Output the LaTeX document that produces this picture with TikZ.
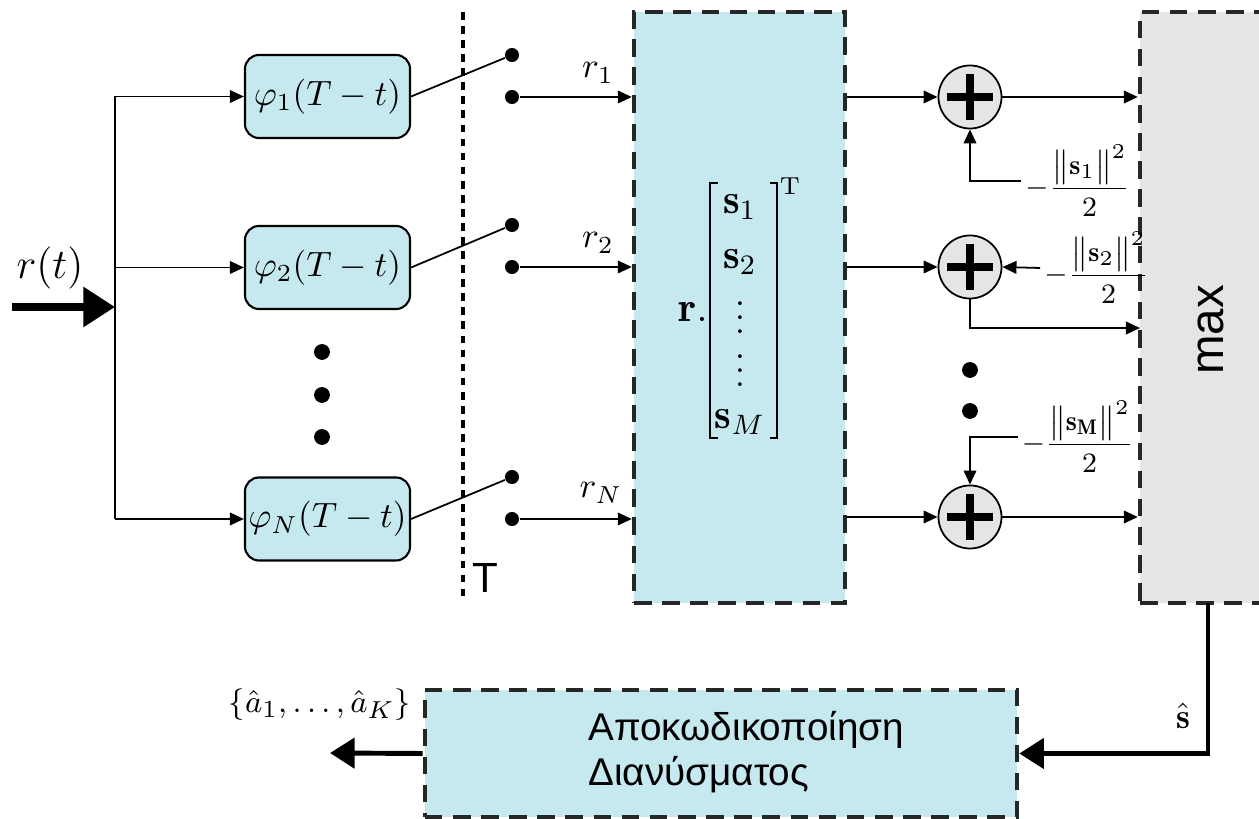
\documentclass[tikz,border=0pt]{standalone}
\usepackage{amsmath}
\usepackage{fontspec}
\setsansfont{Liberation Sans}
\usetikzlibrary{arrows.meta, calc, positioning}
\definecolor{FilterCyan}{RGB}{198, 232, 239}
\definecolor{MaxGray}{RGB}{229, 229, 231}
\definecolor{AdderGray}{RGB}{228, 229, 231}

\begin{document}
\begin{tikzpicture}[x=0.01cm, y=-0.01cm,
    filterbox/.style={draw, fill=FilterCyan, rounded corners=4pt, line width=0.6pt,
        minimum width=1.65cm, minimum height=0.83cm, inner sep=0pt},
    dashbox/.style={draw=black!85, line width=1.2pt, dash pattern=on 5pt off 3pt, inner sep=0pt},
    adder/.style={circle, draw, fill=AdderGray, line width=0.5pt, minimum size=0.63cm, inner sep=0pt,
        path picture={
            \draw[line width=2pt] ([xshift=-0.23cm]path picture bounding box.center) -- ([xshift=0.23cm]path picture bounding box.center);
            \draw[line width=2pt] ([yshift=-0.23cm]path picture bounding box.center) -- ([yshift=0.23cm]path picture bounding box.center);
        }},
    sig/.style={line width=0.5pt, -{Triangle[length=4pt, width=3.6pt]}},
    wire/.style={line width=0.5pt},
    inarrow/.style={line width=2pt, -{Triangle[length=9pt, width=11pt]}},
    outarrow/.style={line width=1.4pt, -{Triangle[length=7pt, width=8.5pt]}},
    contact/.style={circle, fill, inner sep=0pt, minimum size=4pt},
    vdot/.style={circle, fill, inner sep=0pt, minimum size=4.5pt},
    entry/.style={font=\large, inner sep=0.5pt},
    normlabel/.style={font=\footnotesize, inner sep=1pt}]

    \useasboundingbox (0,0) rectangle (1259,819);

    % --- Big blocks ---
    \node[dashbox, fill=FilterCyan, minimum width=2.11cm, minimum height=5.91cm] (corr) at (739.5, 307.5) {};
    \node[dashbox, fill=MaxGray, minimum width=1.5cm, minimum height=5.91cm] (maxbox) at (1215, 307.5) {};
    \node[rotate=90, font=\sffamily\fontsize{13.5}{15}\selectfont] (maxlabel) at (1211, 330) {max};
    \node[dashbox, fill=FilterCyan, minimum width=5.92cm, minimum height=1.27cm] (dec) at (721, 753.5) {};
    \node[anchor=west, align=left, font=\sffamily\fontsize{11}{12.8}\selectfont] (declabel) at (576, 752)
        {Αποκωδικοποίηση\\Διανύσματος};

    % --- Input and matched filters ---
    \coordinate (in) at (12, 307);
    \coordinate (split) at (115, 307);
    \draw[inarrow] (in) -- (split);
    \node[font=\large] (rt) at (50, 268) {$r(t)$};

    \node[filterbox] (f1) at (327.5, 96.5) {$\varphi_1(T-t)$};
    \node[filterbox] (f2) at (327.5, 267.5) {$\varphi_2(T-t)$};
    \node[filterbox] (fN) at (327.5, 519) {$\varphi_N(T-t)$};

    \draw[wire] (split |- f1.west) -- (split |- fN.west);
    \foreach \f in {f1, f2, fN} {
        \draw[sig] (split |- \f.west) -- (\f.west);
    }
    \foreach \y [count=\i] in {352, 395, 437} {
        \node[vdot] (fdot\i) at (322, \y) {};
    }

    % --- Sampling switches ---
    \coordinate (tTop) at (463, 12);
    \coordinate (tBot) at (463, 598);
    \draw[line width=1.4pt, dash pattern=on 2.2pt off 1.8pt] (tTop) -- (tBot);
    \node[font=\sffamily\fontsize{12}{14}\selectfont] (tlabel) at (485, 578) {T};

    \node[contact] (up1) at (512, 55) {};
    \node[contact] (lo1) at (512, 97) {};
    \node[contact] (up2) at (512, 225) {};
    \node[contact] (lo2) at (512, 267) {};
    \node[contact] (upN) at (512, 477) {};
    \node[contact] (loN) at (512, 519) {};
    \draw[wire] (f1.east) -- (up1);
    \draw[wire] (f2.east) -- (up2);
    \draw[wire] (fN.east) -- (upN);
    \draw[sig] (lo1) -- (corr.west |- lo1);
    \draw[sig] (lo2) -- (corr.west |- lo2);
    \draw[sig] (loN) -- (corr.west |- loN);
    \node (r1) at (598, 73) {$r_1$};
    \node (r2) at (598, 243) {$r_2$};
    \node (rN) at (601, 493) {$r_N$};

    % --- Correlation matrix ---
    \draw[wire] (718, 183) -- (710, 183) -- (710, 438) -- (718, 438);
    \draw[wire] (770, 183) -- (777, 183) -- (777, 438) -- (770, 438);
    \node[entry] (rdot) at (693, 312) {$\mathbf{r}.$};
    \node[entry] (s1) at (740, 207) {$\mathbf{s}_1$};
    \node[entry] (s2) at (740, 262) {$\mathbf{s}_2$};
    \node[inner sep=0pt] (vd1) at (740, 307) {$\vdots$};
    \node[inner sep=0pt] (vd2) at (740, 360) {$\vdots$};
    \node[entry] (sM) at (740, 422) {$\mathbf{s}_M$};
    \node[font=\scriptsize] (trans) at (790, 186) {T};

    % --- Adders ---
    \node[adder] (a1) at (970, 97) {};
    \node[adder] (a2) at (970, 267) {};
    \node[adder] (aM) at (970, 517) {};
    \draw[sig] (corr.east |- a1) -- (a1);
    \draw[sig] (corr.east |- a2) -- (a2);
    \draw[sig] (corr.east |- aM) -- (aM);
    \draw[sig] (a1) -- (maxbox.west |- a1);
    \draw[sig] (aM) -- (maxbox.west |- aM);
    \coordinate (o2) at (1140, 328);
    \draw[sig] (a2.south) |- (o2);
    \node[vdot] (adot1) at (970, 370) {};
    \node[vdot] (adot2) at (970, 411) {};

    % energy terms
    \node[normlabel] (n1) at (1078, 181) {$-\dfrac{\big\|\mathbf{s}_1\big\|^2}{2}$};
    \node[normlabel] (n2) at (1097, 268) {$-\dfrac{\big\|\mathbf{s}_2\big\|^2}{2}$};
    \node[normlabel] (nM) at (1078, 437) {$-\dfrac{\big\|\mathbf{s}_\mathbf{M}\big\|^2}{2}$};
    \draw[sig] (n1.west) -| (a1.south);
    \draw[sig] (n2.west) -- (a2.east);
    \draw[sig] (nM.west) -| (aM.north);

    % --- Decision and decoding ---
    \coordinate (mxout) at (1208, 603);
    \coordinate (decout) at (330, 753);
    \draw[outarrow] (mxout) |- (dec.east);
    \draw[outarrow] (dec.west) -- (decout);
    \node (shat) at (1183, 716) {$\hat{\mathbf{s}}$};
    \node[font=\fontsize{9.5}{11}\selectfont, inner sep=1pt] (ahat) at (320, 705) {$\{\hat{a}_1,\ldots,\hat{a}_K\}$};

\end{tikzpicture}
\end{document}
